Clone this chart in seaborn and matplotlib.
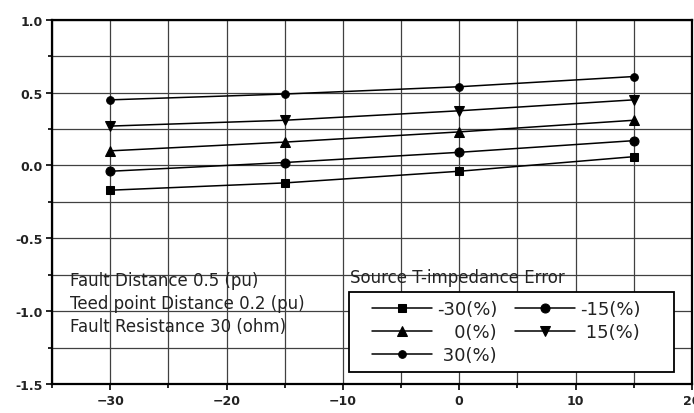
import matplotlib
matplotlib.use("Agg")
import matplotlib.pyplot as plt
import seaborn as sns
import pandas as pd
from matplotlib.ticker import MultipleLocator, FormatStrFormatter
from matplotlib.patches import Rectangle

x_vals = [-30, -15, 0, 15]
series_names = ["-30(%)", "-15(%)", "0(%)", "15(%)", "30(%)"]
y_m30 = [-0.17, -0.12, -0.04, 0.06]
y_m15 = [-0.04, 0.02, 0.09, 0.17]
y_0 = [0.10, 0.16, 0.23, 0.31]
y_15 = [0.27, 0.31, 0.375, 0.45]
y_30 = [0.45, 0.49, 0.54, 0.61]
annot_lines = ["Fault Distance 0.5 (pu)", "Teed point Distance 0.2 (pu)", "Fault Resistance 30 (ohm)"]
legend_title = "Source T-impedance Error"

all_y = [y_m30, y_m15, y_0, y_15, y_30]
rows = []
for name, ys in zip(series_names, all_y):
    for xv, yv in zip(x_vals, ys):
        rows.append({"x": xv, "y": yv, "s": name})
df = pd.DataFrame(rows)

sns.set_theme(style="white")
plt.rcParams["font.family"] = ["DejaVu Sans"]

fig = plt.figure(figsize=(6.94, 4.14), dpi=100)
ax = fig.add_axes([0.075, 0.07, 0.922, 0.88])

markers = {"-30(%)": "s", "-15(%)": "o", "0(%)": "^", "15(%)": "v", "30(%)": "o"}
msize = {"-30(%)": 6.0, "-15(%)": 6.5, "0(%)": 6.5, "15(%)": 6.5, "30(%)": 5.5}
handles = {}
for name in series_names:
    sub = df[df["s"] == name]
    sns.lineplot(data=sub, x="x", y="y", ax=ax, color="black", marker=markers[name],
                 markersize=msize[name], markeredgecolor="black", linewidth=1.1,
                 label=name, legend=False)
    handles[name] = ax.lines[-1]

ax.set_xlim(-35, 20)
ax.set_ylim(-1.5, 1.0)
ax.xaxis.set_major_locator(MultipleLocator(10))
ax.xaxis.set_minor_locator(MultipleLocator(5))
ax.yaxis.set_major_locator(MultipleLocator(0.5))
ax.yaxis.set_minor_locator(MultipleLocator(0.25))
ax.yaxis.set_major_formatter(FormatStrFormatter("%.1f"))
ax.grid(True, which="both", color="0.25", linewidth=0.9)
ax.set_axisbelow(True)
ax.tick_params(which="both", direction="out", length=4, width=1.2, color="black",
               bottom=True, left=True, labelsize=9, pad=3)
ax.tick_params(which="minor", length=3)
for lab in ax.get_xticklabels() + ax.get_yticklabels():
    lab.set_fontweight("bold")
    lab.set_color("#222222")
for sp in ax.spines.values():
    sp.set_color("black")
    sp.set_linewidth(1.6)
ax.set_xlabel("")
ax.set_ylabel("")

for i, t in enumerate(annot_lines):
    ax.text(-33.45, -0.786 - i * 0.157, t, fontsize=12, color="#222222", va="center", ha="left")

ax.text(-9.4, -0.765, legend_title, fontsize=12, color="#222222", va="center", ha="left")

ax.add_patch(Rectangle((0.464, 0.033), 0.508, 0.22, transform=ax.transAxes,
                       facecolor="white", edgecolor="black", linewidth=1.3, zorder=4))

order = ["-30(%)", "0(%)", "30(%)", "-15(%)", "15(%)"]
pad_map = {"-30(%)": "", "-15(%)": "", "0(%)": "\u2008\u2007", "15(%)": "\u2008", "30(%)": "\u2008"}
labels = [pad_map[n] + n for n in order]
leg = ax.legend([handles[n] for n in order], labels, ncol=2, loc="upper left",
                bbox_to_anchor=(0.5, 0.23), frameon=False, fontsize=13,
                handlelength=3.3, handletextpad=0.3, columnspacing=1.0, labelspacing=0.28,
                borderpad=0.0, borderaxespad=0.0, markerfirst=True)
leg.set_zorder(5)
for t in leg.get_texts():
    t.set_color("#222222")

fig.savefig("out.png", dpi=100)
